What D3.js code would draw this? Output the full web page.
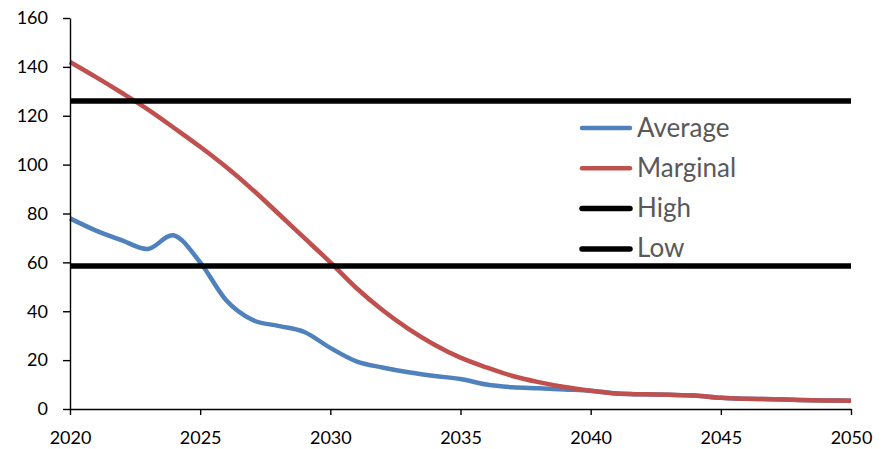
<!DOCTYPE html>
<html>
<head>
<meta charset="utf-8">
<script src="https://cdn.jsdelivr.net/npm/d3@7"></script>
<style>
  body { margin: 0; background: #fff; }
  svg { display: block; font-family: Lato, "Open Sans", sans-serif; }
</style>
</head>
<body>
<script>
// values
var years = [2020,2021,2022,2023,2024,2025,2026,2027,2028,2029,2030,
             2031,2032,2033,2034,2035,2036,2037,2038,2039,2040,
             2041,2042,2043,2044,2045,2046,2047,2048,2049,2050];
var average = [78,73,69,65.5,71,60,44.5,36.5,34,31.5,25,
               19.5,17,15,13.5,12.3,10,8.9,8.5,8,7.5,
               6.3,6,5.8,5.5,4.6,4.2,4,3.7,3.5,3.4];
var marginal = [142,135.8,129.3,122.5,115,107.3,99,89.9,80,70,60,
                49.5,40.5,32.8,26.3,21,17,13.5,11,9,7.5,
                6.3,6,5.8,5.5,4.6,4.2,4,3.7,3.5,3.4];
var high = 126;
var low = 58.5;
var xTicks = [2020,2025,2030,2035,2040,2045,2050];
var yTicks = [0,20,40,60,80,100,120,140,160];

var series = [
  {name: "Average", color: "#4F81BD", width: 4.5, pts: years.map((y,i)=>[y, average[i]])},
  {name: "Marginal", color: "#C0504D", width: 4.5, pts: years.map((y,i)=>[y, marginal[i]])},
  {name: "High", color: "#000", width: 5.5, pts: [[2020, high],[2050, high]]},
  {name: "Low", color: "#000", width: 5.5, pts: [[2020, low],[2050, low]]}
];

var W = 889, H = 449;
var m = {left: 70, right: 38, top: 18, bottom: 40};

var svg = d3.select('body').append('svg').attr('width', W).attr('height', H);

var x = d3.scaleLinear().domain([2020, 2050]).range([m.left, W - m.right]);
var y = d3.scaleLinear().domain([0, 160]).range([H - m.bottom, m.top]);

var line = d3.line()
    .x(d=>x(d[0]))
    .y(d=>y(d[1]))
    .curve(d3.curveCardinal.tension(0));

svg.selectAll("path.series")
    .data(series)
    .enter().append("path")
    .attr("class", "series")
    .attr("d", d=>line(d.pts))
    .attr("fill", "none")
    .attr("stroke", d=>d.color)
    .attr("stroke-width", d=>d.width)
    .attr("stroke-linejoin", "round");

var xAxis = svg.append("g")
    .attr("transform", "translate(0," + (H - m.bottom) + ")")
    .call(d3.axisBottom(x).tickValues(xTicks).tickFormat(d3.format("d")).tickSize(6).tickSizeOuter(0).tickPadding(16));

var yAxis = svg.append("g")
    .attr("transform", "translate(" + m.left + ",0)")
    .call(d3.axisLeft(y).tickValues(yTicks).tickSize(7).tickSizeOuter(0).tickPadding(15));

[xAxis, yAxis].forEach(g=>{
  g.select(".domain").attr("stroke", "#000").attr("stroke-width", 1.4);
  g.selectAll(".tick line").attr("stroke", "#000").attr("stroke-width", 1.4);
  g.selectAll(".tick text").attr("fill", "#000").style("font-size", "18px").style("font-family", "Lato, sans-serif");
});

// legend
var legend = svg.selectAll("g.legend")
    .data(series)
    .enter().append("g")
    .attr("class", "legend")
    .attr("transform", (d, i)=>"translate(580," + (128 + i * 40.3) + ")");

legend.append("line")
    .attr("x1", 2).attr("x2", 50)
    .attr("stroke", d=>d.color)
    .attr("stroke-width", d=>d.width)
    .attr("stroke-linecap", "round");

legend.append("text")
    .attr("x", 57)
    .attr("y", 8.5)
    .text(d=>d.name)
    .attr("fill", "#595959")
    .style("font-size", "26px");
</script>
</body>
</html>
